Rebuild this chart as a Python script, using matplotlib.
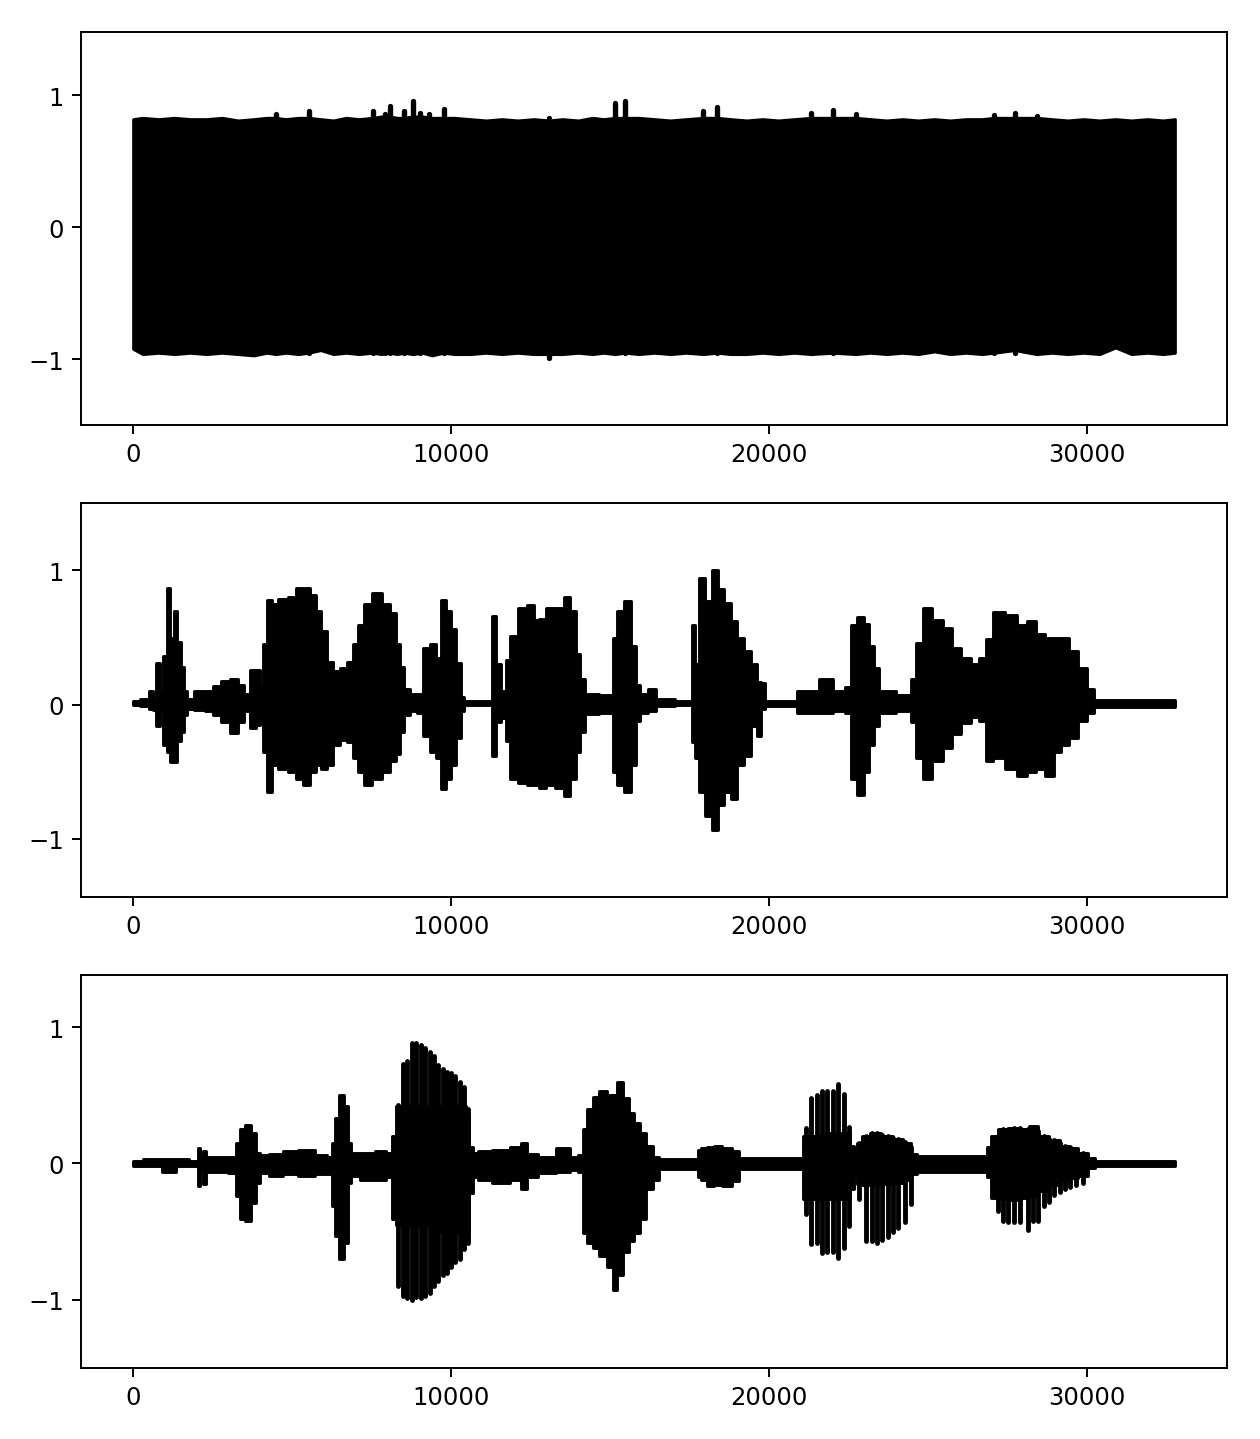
import matplotlib
matplotlib.use('Agg')
import matplotlib.pyplot as plt
import numpy as np

# Signal 1: dense noise, envelope (sample index, upper, lower)
noise_x = [0, 300, 800, 1300, 1800, 2300, 2800, 3300, 3800, 4200,
           4489, 4800, 5200, 5523, 5900, 6300, 6700, 7100, 7537, 7800,
           8081, 8300, 8517, 8789, 9100, 9400, 9768, 10100, 10600, 11100,
           11600, 12100, 12600, 13090, 13500, 14000, 14450, 14800, 15158, 15485,
           15900, 16400, 16900, 17400, 17926, 18373, 18800, 19300, 19800, 20300,
           20800, 21330, 22000, 22725, 23200, 23700, 24200, 24700, 25200, 25700,
           26200, 26700, 27077, 27725, 28417, 28900, 29400, 29900, 30400, 30900,
           31400, 31900, 32400, 32767]
noise_upper = [0.82, 0.83, 0.82, 0.83, 0.82, 0.82, 0.83, 0.81, 0.82, 0.83,
               0.83, 0.82, 0.83, 0.83, 0.82, 0.81, 0.83, 0.82, 0.83, 0.84,
               0.84, 0.83, 0.83, 0.84, 0.84, 0.83, 0.83, 0.83, 0.82, 0.81,
               0.82, 0.81, 0.82, 0.81, 0.82, 0.81, 0.83, 0.82, 0.83, 0.83,
               0.83, 0.82, 0.81, 0.82, 0.83, 0.83, 0.82, 0.81, 0.82, 0.81,
               0.82, 0.83, 0.83, 0.83, 0.82, 0.81, 0.82, 0.81, 0.82, 0.81,
               0.82, 0.82, 0.83, 0.83, 0.83, 0.82, 0.81, 0.82, 0.81, 0.82,
               0.81, 0.82, 0.81, 0.82]
noise_lower = [-0.92, -0.96, -0.95, -0.96, -0.95, -0.96, -0.95, -0.96, -0.97, -0.95,
               -0.96, -0.95, -0.96, -0.95, -0.93, -0.96, -0.95, -0.96, -0.95, -0.96,
               -0.95, -0.96, -0.95, -0.96, -0.95, -0.97, -0.95, -0.96, -0.96, -0.95,
               -0.96, -0.95, -0.96, -0.96, -0.96, -0.95, -0.96, -0.95, -0.96, -0.95,
               -0.96, -0.95, -0.96, -0.95, -0.96, -0.95, -0.96, -0.96, -0.95, -0.96,
               -0.95, -0.96, -0.95, -0.96, -0.95, -0.96, -0.95, -0.96, -0.94, -0.96,
               -0.95, -0.96, -0.95, -0.93, -0.96, -0.95, -0.96, -0.95, -0.96, -0.91,
               -0.96, -0.95, -0.96, -0.95]

# Signal 1: isolated peaks above / below the noise band
noise_peak_x = [4489, 5523, 7537, 7935, 8081, 8517, 8789, 9010, 9295, 9768,
                13090, 15158, 15485, 17926, 18373, 21330, 22000, 22725, 27077, 27725,
                28417]
noise_peak_top = [0.86, 0.88, 0.88, 0.86, 0.92, 0.88, 0.96, 0.87, 0.86, 0.90,
                  0.83, 0.94, 0.96, 0.88, 0.91, 0.87, 0.89, 0.86, 0.85, 0.87,
                  0.84]
noise_peak_bottom = [-0.95, -0.95, -0.95, -0.95, -0.95, -0.95, -0.95, -0.95, -0.95, -0.95,
                     -0.99, -0.95, -0.95, -0.95, -0.95, -0.95, -0.95, -0.95, -0.95, -0.95,
                     -0.95]

# Signal 2: noisy speech envelope
noisy_x = [0, 459, 568, 677, 785, 894, 1003, 1112, 1220, 1329,
           1438, 1547, 1634, 1764, 2090, 2417, 2634, 2906, 3178, 3395,
           3591, 3776, 3939, 4048, 4135, 4287, 4429, 4701, 5027, 5245,
           5462, 5680, 5843, 6006, 6169, 6387, 6604, 6822, 6985, 7148,
           7365, 7692, 7963, 8181, 8344, 8453, 8562, 8834, 9051, 9214,
           9432, 9595, 9758, 9921, 10084, 10247, 10378, 10465, 11226, 11335,
           11498, 11661, 11770, 11933, 12259, 12531, 12695, 12858, 13130, 13402,
           13673, 13837, 14000, 14141, 14272, 15033, 15142, 15305, 15577, 15740,
           15870, 16012, 16364, 16531, 17536, 17614, 17703, 17870, 18094, 18317,
           18484, 18707, 18875, 19098, 19321, 19544, 19689, 19823, 19935, 20828,
           20939, 21386, 21776, 22279, 22502, 22669, 22892, 23059, 23227, 23372,
           23562, 24399, 24533, 24734, 24957, 25292, 25627, 25906, 26185, 26519,
           26720, 26910, 27189, 27635, 27970, 28249, 28528, 28863, 29086, 29309,
           29588, 29867, 30112, 30313, 32767]
noisy_upper = [0.03, 0.04, 0.10, 0.04, 0.31, 0.10, 0.36, 0.87, 0.50, 0.70,
               0.47, 0.28, 0.10, 0.04, 0.10, 0.10, 0.14, 0.18, 0.19, 0.15,
               0.08, 0.26, 0.26, 0.15, 0.45, 0.78, 0.75, 0.79, 0.80, 0.87,
               0.87, 0.82, 0.70, 0.55, 0.32, 0.25, 0.27, 0.32, 0.45, 0.59,
               0.75, 0.83, 0.75, 0.68, 0.45, 0.28, 0.12, 0.08, 0.08, 0.42,
               0.45, 0.35, 0.78, 0.70, 0.56, 0.31, 0.06, 0.03, 0.03, 0.66,
               0.30, 0.10, 0.33, 0.51, 0.72, 0.74, 0.63, 0.64, 0.72, 0.72,
               0.80, 0.70, 0.38, 0.19, 0.08, 0.07, 0.50, 0.70, 0.77, 0.44,
               0.15, 0.08, 0.12, 0.04, 0.03, 0.59, 0.30, 0.94, 0.77, 1.00,
               0.86, 0.76, 0.62, 0.50, 0.40, 0.30, 0.17, 0.16, 0.03, 0.03,
               0.10, 0.10, 0.19, 0.10, 0.13, 0.59, 0.65, 0.60, 0.44, 0.27,
               0.10, 0.07, 0.19, 0.46, 0.72, 0.63, 0.57, 0.42, 0.35, 0.30,
               0.35, 0.49, 0.69, 0.67, 0.59, 0.62, 0.53, 0.50, 0.50, 0.50,
               0.40, 0.27, 0.12, 0.035, 0.035]
noisy_lower = [-0.005, -0.01, -0.03, -0.04, -0.16, -0.05, -0.30, -0.35, -0.43, -0.43,
               -0.27, -0.20, -0.08, -0.03, -0.04, -0.05, -0.08, -0.13, -0.21, -0.13,
               -0.05, -0.17, -0.15, -0.12, -0.35, -0.65, -0.45, -0.48, -0.50, -0.55,
               -0.60, -0.50, -0.45, -0.48, -0.45, -0.30, -0.26, -0.28, -0.40, -0.50,
               -0.60, -0.55, -0.50, -0.42, -0.37, -0.20, -0.08, -0.05, -0.06, -0.23,
               -0.35, -0.40, -0.63, -0.55, -0.45, -0.25, -0.05, -0.005, -0.005, -0.38,
               -0.13, -0.10, -0.27, -0.55, -0.58, -0.60, -0.60, -0.62, -0.60, -0.62,
               -0.68, -0.55, -0.35, -0.20, -0.07, -0.06, -0.50, -0.60, -0.65, -0.45,
               -0.12, -0.06, -0.05, -0.01, -0.005, -0.28, -0.40, -0.65, -0.83, -0.93,
               -0.75, -0.65, -0.70, -0.45, -0.38, -0.16, -0.23, -0.03, -0.01, -0.01,
               -0.06, -0.06, -0.06, -0.05, -0.06, -0.55, -0.67, -0.50, -0.30, -0.16,
               -0.06, -0.05, -0.13, -0.40, -0.55, -0.42, -0.32, -0.22, -0.14, -0.09,
               -0.12, -0.42, -0.40, -0.48, -0.53, -0.50, -0.48, -0.53, -0.35, -0.30,
               -0.25, -0.12, -0.06, -0.015, -0.015]

# Signal 3: clean speech, solid core envelope
clean_x = [0, 600, 1220, 1500, 2000, 2069, 2150, 2254, 2350, 2800,
           3200, 3300, 3450, 3600, 3800, 3950, 4050, 4500, 4950, 5450,
           6000, 6200, 6280, 6390, 6550, 6710, 6820, 6900, 7400, 7800,
           8100, 8200, 8344, 10400, 10519, 10640, 10720, 11000, 11600, 12100,
           12300, 12500, 13000, 13610, 13900, 14100, 14200, 14380, 14540, 14760,
           15030, 15140, 15280, 15520, 15690, 15850, 16010, 16230, 16475, 16600,
           17700, 17815, 17926, 18150, 18373, 18700, 18990, 19150, 21050, 21107,
           22502, 22613, 22725, 22837, 23000, 23340, 23729, 24064, 24343, 24566,
           24734, 26798, 26910, 27077, 27356, 27750, 28080, 28305, 28640, 28975,
           29309, 29590, 29867, 30200, 30300, 32767]
clean_upper = [0.015, 0.03, 0.03, 0.03, 0.02, 0.115, 0.04, 0.09, 0.05, 0.05,
               0.05, 0.15, 0.25, 0.28, 0.22, 0.08, 0.06, 0.07, 0.09, 0.10,
               0.06, 0.05, 0.15, 0.33, 0.50, 0.42, 0.15, 0.08, 0.08, 0.09,
               0.08, 0.20, 0.42, 0.42, 0.35, 0.12, 0.08, 0.09, 0.10, 0.12,
               0.15, 0.07, 0.05, 0.11, 0.05, 0.06, 0.25, 0.40, 0.49, 0.53,
               0.50, 0.50, 0.60, 0.48, 0.37, 0.30, 0.22, 0.13, 0.05, 0.03,
               0.03, 0.10, 0.115, 0.12, 0.127, 0.11, 0.09, 0.04, 0.04, 0.20,
               0.22, 0.127, 0.10, 0.15, 0.205, 0.225, 0.20, 0.176, 0.15, 0.066,
               0.054, 0.054, 0.12, 0.20, 0.25, 0.26, 0.25, 0.275, 0.20, 0.17,
               0.127, 0.11, 0.08, 0.04, 0.02, 0.02]
clean_lower = [-0.015, -0.02, -0.06, -0.02, -0.02, -0.166, -0.05, -0.15, -0.06, -0.06,
               -0.07, -0.24, -0.41, -0.42, -0.29, -0.14, -0.07, -0.09, -0.08, -0.09,
               -0.08, -0.08, -0.31, -0.53, -0.70, -0.58, -0.14, -0.09, -0.12, -0.12,
               -0.10, -0.41, -0.45, -0.50, -0.50, -0.22, -0.10, -0.12, -0.14, -0.12,
               -0.19, -0.10, -0.07, -0.06, -0.05, -0.06, -0.51, -0.58, -0.62, -0.68,
               -0.76, -0.93, -0.82, -0.65, -0.57, -0.51, -0.41, -0.19, -0.12, -0.04,
               -0.04, -0.10, -0.12, -0.166, -0.155, -0.166, -0.13, -0.04, -0.04, -0.26,
               -0.26, -0.19, -0.10, -0.15, -0.16, -0.16, -0.15, -0.14, -0.12, -0.08,
               -0.06, -0.06, -0.10, -0.25, -0.26, -0.27, -0.25, -0.24, -0.20, -0.16,
               -0.13, -0.11, -0.09, -0.03, -0.02, -0.02]

# Signal 3: individual pitch peaks sticking out of the core
peak_x = [8344, 8486, 8616, 8779, 8910, 9051, 9182, 9323, 9464, 9595,
          9736, 9867, 10008, 10139, 10280, 10411, 10519,
          21163, 21330, 21497, 21665, 21832, 22022, 22178, 22346, 22502,
          22837, 23037, 23227, 23395, 23562, 23729, 23897, 24064, 24265, 24455,
          27189, 27356, 27524, 27691, 27881, 28137, 28305, 28472, 28640, 28807,
          28975, 29142, 29309, 29477, 29644, 29867]
peak_top = [0.43, 0.73, 0.75, 0.88, 0.88, 0.87, 0.85, 0.82, 0.79, 0.72,
            0.69, 0.67, 0.66, 0.64, 0.60, 0.56, 0.40,
            0.26, 0.48, 0.50, 0.53, 0.53, 0.53, 0.58, 0.51, 0.27,
            0.15, 0.20, 0.22, 0.22, 0.21, 0.20, 0.19, 0.18, 0.16, 0.12,
            0.20, 0.25, 0.25, 0.26, 0.26, 0.25, 0.27, 0.24, 0.20, 0.18,
            0.17, 0.15, 0.13, 0.12, 0.10, 0.08]
peak_bottom = [-0.90, -0.97, -0.99, -1.00, -0.98, -0.99, -0.97, -0.95, -0.90, -0.86,
               -0.82, -0.80, -0.76, -0.72, -0.70, -0.63, -0.58,
               -0.37, -0.59, -0.58, -0.655, -0.65, -0.65, -0.69, -0.62, -0.46,
               -0.26, -0.57, -0.57, -0.58, -0.56, -0.54, -0.50, -0.47, -0.43, -0.30,
               -0.35, -0.42, -0.43, -0.43, -0.43, -0.49, -0.42, -0.42, -0.31, -0.28,
               -0.23, -0.21, -0.19, -0.17, -0.16, -0.14]

y_limits = [(-1.5, 1.48), (-1.43, 1.5), (-1.5, 1.385)]

fig, axes = plt.subplots(3, 1, figsize=(7.2, 1440 / 175), dpi=175)
plt.subplots_adjust(left=0.0643, right=0.9738, top=0.9771, bottom=0.0493, hspace=0.198)

signals = [(noise_x, noise_lower, noise_upper, None),
           (noisy_x, noisy_lower, noisy_upper, 'mid'),
           (clean_x, clean_lower, clean_upper, 'mid')]

for ax, (x, lo, hi, step), lims in zip(axes, signals, y_limits):
    ax.fill_between(x, lo, hi, step=step, facecolor='black',
                    edgecolor='black', linewidth=1.2)
    ax.set_xlim(-0.05 * 32767, 1.05 * 32767)
    ax.set_ylim(*lims)
    ax.set_yticks([-1, 0, 1])
    ax.set_xticks([0, 10000, 20000, 30000])

axes[0].vlines(noise_peak_x, noise_peak_bottom, noise_peak_top, color='black',
               linewidth=2.2, capstyle='round')
axes[2].vlines(peak_x, peak_bottom, peak_top, color='black',
               linewidth=2.0, capstyle='round')

plt.savefig('out.png', dpi=175)
plt.close()
